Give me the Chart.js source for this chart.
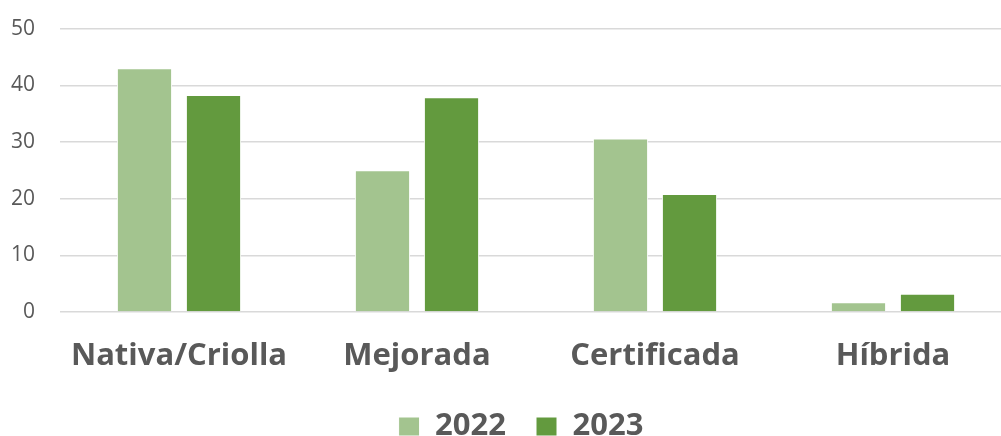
<!DOCTYPE html>
<html>
<head>
<meta charset="utf-8">
<script src="https://cdn.jsdelivr.net/npm/chart.js@4"></script>
<style>
  html, body { margin: 0; padding: 0; background: #fff; overflow: hidden; }
  #wrap { width: 1012px; height: 445px; margin-top: -9px; }
</style>
</head>
<body>
<div id="wrap"><canvas id="grafico"></canvas></div>
<script>
// dati
const categorie = ["Nativa/Criolla", "Mejorada", "Certificada", "Híbrida"];
const valori2022 = [43.0, 25.0, 30.6, 1.7];
const valori2023 = [38.3, 37.9, 20.8, 3.2];
const tickY = [0, 10, 20, 30, 40, 50];

const grigio = "#595959";

// sposta la legenda come nell'originale (e allarga il box per non tagliarla)
const spostaLegenda = {
    id: "spostaLegenda",
    afterLayout(chart) {
        const dx = 15, dy = -15;
        const leg = chart.legend;
        leg.left += dx;
        leg.right += dx;
        leg.top += dy;
        leg.bottom = leg.top + 200;
        leg.height = 200;
    }
};

const ctx = document.getElementById("grafico");
new Chart(ctx, {
    type: "bar",
    data: {
        labels: categorie,
        datasets: [
            { label: "2022", data: valori2022, backgroundColor: "#a3c48f", borderColor: "#ffffff", borderWidth: 1 },
            { label: "2023", data: valori2023, backgroundColor: "#639a3e", borderColor: "#ffffff", borderWidth: 1 }
        ]
    },
    options: {
        responsive: true,
        maintainAspectRatio: false,
        animation: false,
        layout: { padding: 0 },
        datasets: { bar: { categoryPercentage: 0.58, barPercentage: 0.8 } },
        scales: {
            x: {
                afterFit: (asse) => { asse.height = 84; },
                grid: { display: false },
                border: { display: false },
                ticks: { color: grigio, padding: 18, font: { family: "Open Sans", size: 31, weight: "bold" } }
            },
            y: {
                min: 0,
                max: 50,
                afterBuildTicks: (asse) => { asse.ticks = tickY.map(v => ({ value: v })); },
                afterFit: (asse) => { asse.width = 60; },
                grid: { color: "#d9d9d9", lineWidth: 1.5, drawTicks: false },
                border: { display: false },
                ticks: { color: grigio, padding: 25, font: { family: "Open Sans", size: 21 } }
            }
        },
        plugins: {
            tooltip: { enabled: false },
            legend: {
                position: "bottom",
                maxHeight: 40,
                labels: {
                    color: grigio,
                    boxWidth: 21,
                    boxHeight: 19,
                    padding: 30,
                    font: { family: "Open Sans", size: 31, weight: "bold" }
                }
            }
        }
    },
    plugins: [spostaLegenda]
});
</script>
</body>
</html>
